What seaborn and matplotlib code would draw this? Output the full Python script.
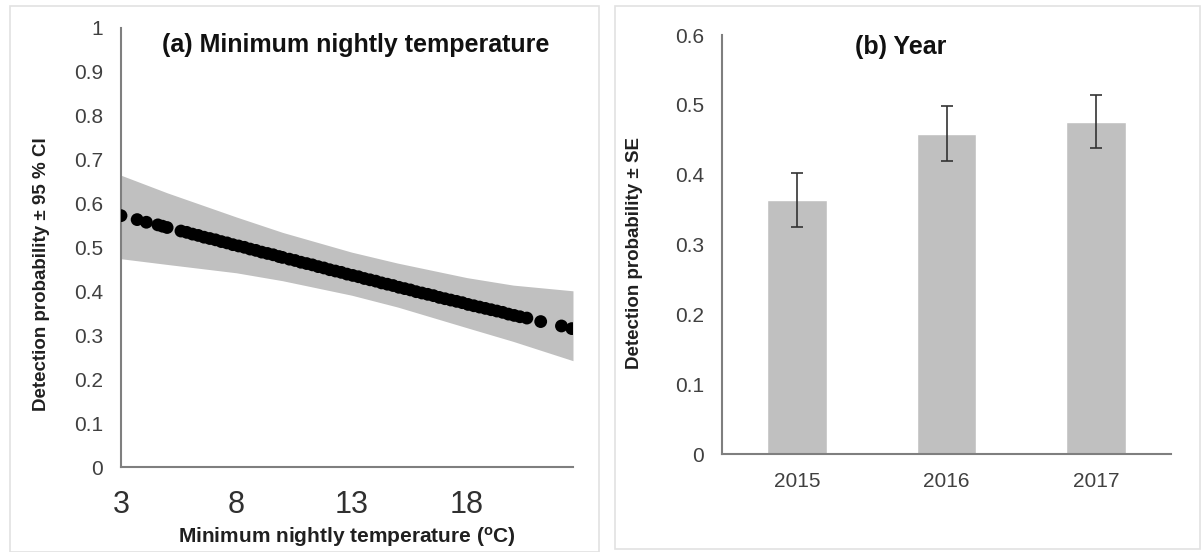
import numpy as np
import pandas as pd
import seaborn as sns
import matplotlib.pyplot as plt
from matplotlib.patches import Rectangle

# (a) fitted detection probability vs minimum nightly temperature
temp = [3.0, 3.7, 4.1, 4.6, 4.8, 5.0,
        5.6, 5.85, 6.1, 6.35, 6.6, 6.85, 7.1, 7.35, 7.6, 7.85, 8.1, 8.35,
        8.6, 8.85, 9.1, 9.35, 9.6, 9.85, 10.0,
        10.3, 10.55, 10.8, 11.05, 11.3, 11.55, 11.8, 12.05, 12.3, 12.55,
        12.8, 13.05, 13.3, 13.55, 13.8, 14.05, 14.3, 14.55, 14.8, 15.05,
        15.3, 15.55, 15.8, 16.05, 16.3, 16.55, 16.8, 17.05, 17.3, 17.55,
        17.8, 18.05, 18.3, 18.55, 18.8, 19.05, 19.3, 19.55, 19.8, 20.05,
        20.3, 20.6, 21.2, 22.1, 22.55]
prob = [0.573, 0.564, 0.558, 0.552, 0.549, 0.546,
        0.538, 0.535, 0.531, 0.528, 0.524, 0.521, 0.518, 0.514, 0.511,
        0.507, 0.504, 0.501, 0.497, 0.494, 0.490, 0.487, 0.484, 0.480,
        0.478,
        0.474, 0.471, 0.467, 0.464, 0.461, 0.457, 0.454, 0.450, 0.447,
        0.444, 0.440, 0.437, 0.434, 0.430, 0.427, 0.424, 0.420, 0.417,
        0.414, 0.410, 0.407, 0.404, 0.400, 0.397, 0.394, 0.391, 0.387,
        0.384, 0.381, 0.378, 0.375, 0.371, 0.368, 0.365, 0.362, 0.359,
        0.356, 0.353, 0.349, 0.346, 0.343, 0.340, 0.332, 0.322, 0.316]

band_x = [3.0, 5.0, 8.0, 10.0, 13.0, 15.0, 18.0, 20.0, 22.6]
ci_upper = [0.665, 0.625, 0.570, 0.535, 0.490, 0.465, 0.432, 0.415, 0.402]
ci_lower = [0.475, 0.462, 0.443, 0.425, 0.392, 0.365, 0.318, 0.287, 0.243]

# (b) detection probability by year
years = ['2015', '2016', '2017']
year_prob = [0.364, 0.459, 0.476]
year_se = [0.039, 0.039, 0.038]

sns.set_style('white')
plt.rcParams['font.family'] = ['Liberation Sans', 'DejaVu Sans']
plt.rcParams['mathtext.fontset'] = 'custom'
plt.rcParams['mathtext.rm'] = 'Liberation Sans:bold'
plt.rcParams['mathtext.it'] = 'Liberation Sans:bold'
plt.rcParams['mathtext.bf'] = 'Liberation Sans:bold'

grey_txt = '#404040'
axis_col = '#7f7f7f'

fig = plt.figure(figsize=(12.04, 5.52), dpi=100)

# panel frames
fig.patches.append(Rectangle((10 / 1204, 0), 589 / 1204, 546 / 552,
                             transform=fig.transFigure, fill=False,
                             edgecolor='#e2e2e2', lw=1.2))
fig.patches.append(Rectangle((615 / 1204, 3 / 552), 585 / 1204, 543 / 552,
                             transform=fig.transFigure, fill=False,
                             edgecolor='#e2e2e2', lw=1.2))

ax1 = fig.add_axes([0.1005, 0.1531, 0.3754, 0.7962])
ax2 = fig.add_axes([0.5997, 0.1775, 0.3729, 0.7590])

# ---- panel (a)
ax1.fill_between(band_x, ci_lower, ci_upper, color='#c0c0c0', lw=0, zorder=1)
df_a = pd.DataFrame({'temp': temp, 'prob': prob})
sns.scatterplot(data=df_a, x='temp', y='prob', ax=ax1, color='black',
                s=85, edgecolor='none', zorder=3, legend=False)
ax1.set_xlim(3, 22.6)
ax1.set_ylim(0, 1)
ax1.set_xticks([3, 8, 13, 18])
ax1.set_yticks(np.arange(0, 1.01, 0.1))
ax1.set_yticklabels(['0', '0.1', '0.2', '0.3', '0.4', '0.5', '0.6', '0.7',
                     '0.8', '0.9', '1'])
ax1.tick_params(axis='x', direction='out', length=6, width=1.2,
                color=axis_col, labelsize=22, labelcolor='#303030', pad=10)
ax1.tick_params(axis='y', direction='out', length=6, width=1.2,
                color=axis_col, labelsize=15, labelcolor=grey_txt, pad=7)
ax1.set_xlabel('Minimum nightly temperature ($^{o}$C)', fontsize=15,
               fontweight='bold', color='#202020')
ax1.set_ylabel('Detection probability \u00b1 95 % CI', fontsize=13.5,
               fontweight='bold', color='#202020')
ax1.xaxis.set_label_coords(0.5, -0.13)
ax1.yaxis.set_label_coords(-0.158, 0.44)
ax1.text(0.52, 0.961, '(a) Minimum nightly temperature', transform=ax1.transAxes,
         ha='center', va='center', fontsize=18, fontweight='bold',
         color='#111111')

# ---- panel (b)
df_b = pd.DataFrame({'year': years, 'prob': year_prob})
sns.barplot(data=df_b, x='year', y='prob', ax=ax2, color='#c0c0c0',
            saturation=1, width=0.4, errorbar=None, zorder=2)
ax2.errorbar(range(len(years)), year_prob, yerr=year_se, fmt='none',
             ecolor='#333333', elinewidth=1.2, capsize=4, capthick=1.2,
             zorder=3)
ax2.set_xlim(-0.5, 2.5)
ax2.set_ylim(0, 0.6)
ax2.set_yticks(np.arange(0, 0.61, 0.1))
ax2.set_yticklabels(['0', '0.1', '0.2', '0.3', '0.4', '0.5', '0.6'])
ax2.set_xticks([-0.5, 0.5, 1.5, 2.5], minor=True)
ax2.tick_params(axis='x', which='major', length=0, labelsize=15,
                labelcolor=grey_txt, pad=13)
ax2.tick_params(axis='x', which='minor', direction='out', length=6,
                width=1.2, color=axis_col)
ax2.tick_params(axis='y', direction='out', length=6, width=1.2,
                color=axis_col, labelsize=15, labelcolor=grey_txt, pad=7)
ax2.set_xlabel('')
ax2.set_ylabel('Detection probability \u00b1 SE', fontsize=13.5,
               fontweight='bold', color='#202020')
ax2.yaxis.set_label_coords(-0.176, 0.48)
ax2.text(0.397, 0.971, '(b) Year', transform=ax2.transAxes,
         ha='center', va='center', fontsize=18, fontweight='bold',
         color='#111111')

for ax in (ax1, ax2):
    sns.despine(ax=ax)
    for side in ('left', 'bottom'):
        ax.spines[side].set_color(axis_col)
        ax.spines[side].set_linewidth(1.5)

fig.savefig('out.png', dpi=100)
